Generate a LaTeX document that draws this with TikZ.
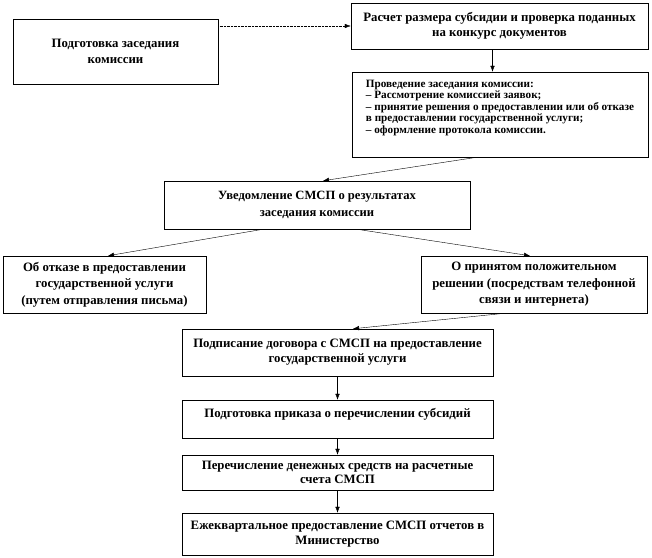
\documentclass[tikz,border=0pt]{standalone}
\usepackage{fontspec}
\setmainfont{Liberation Serif}
\usepackage{tikz}
\usetikzlibrary{arrows.meta, positioning}

\begin{document}
\begin{tikzpicture}[x=1pt, y=-1pt, >={Latex[length=6pt,width=4.5pt]},
    box/.style={draw, line width=0.5pt, inner sep=2pt, align=center,
      font=\fontsize{12.8}{15}\selectfont\bfseries}]
          \useasboundingbox (0,0) rectangle (652,557);

          \node[box, minimum width=205pt, minimum height=65pt, font=\fontsize{12.8}{16}\selectfont\bfseries] (1) at (115.5,51.5) {Подготовка заседания\\комиссии};
          \node[box, minimum width=297pt, minimum height=46pt] (2) at (499.5,26) {Расчет размера субсидии и проверка поданных\\на конкурс документов};
          \node[box, minimum width=296pt, minimum height=85pt, align=left, font=\fontsize{11.2}{11.6}\selectfont\bfseries] (3) at (500,114.5) {Проведение заседания комиссии:\\– Рассмотрение комиссией заявок;\\– принятие решения о предоставлении или об отказе\\в предоставлении государственной услуги;\\– оформление протокола комиссии.\\[4pt]};
          \node[box, minimum width=306pt, minimum height=48pt, font=\fontsize{12.6}{17}\selectfont\bfseries] (4) at (317,205) {Уведомление СМСП о результатах\\заседания комиссии};
          \node[box, minimum width=203pt, minimum height=57pt, font=\fontsize{12.8}{16.5}\selectfont\bfseries] (5) at (104.5,284.5) {Об отказе в предоставлении\\государственной услуги\\(путем отправления письма)};
          \node[box, minimum width=226pt, minimum height=57pt, font=\fontsize{12.8}{16.5}\selectfont\bfseries] (6) at (534,284.5) {О принятом положительном\\решении (посредствам телефонной\\связи и интернета)};
          \node[box, minimum width=311pt, minimum height=47pt] (7) at (337.5,352.5) {Подписание договора с СМСП на предоставление\\государственной услуги};
          \node[box, minimum width=311pt, minimum height=38pt, text depth=12pt] (8) at (337.5,419) {Подготовка приказа о перечислении субсидий};
          \node[box, minimum width=311pt, minimum height=35pt, font=\fontsize{12.8}{13.5}\selectfont\bfseries] (9) at (337.5,472.5) {Перечисление денежных средств на расчетные\\счета СМСП};
          \node[box, minimum width=311pt, minimum height=42pt] (10) at (337.5,534) {Ежеквартальное предоставление СМСП отчетов в\\Министерство};

          \draw[->, densely dotted] (2.west -| 1.east) to (2.west);
          \draw[->] ([xshift=-7pt]2.south) to ([xshift=-7pt]2.south |- 3.north);
          \draw[->] ([xshift=-23pt]3.south) to ([xshift=6pt]4.north);
          \draw[->] ([xshift=-54pt]4.south) to ([xshift=3.5pt]5.north);
          \draw[->] ([xshift=40pt]4.south) to ([xshift=-4pt]6.north);
          \draw[->] ([xshift=-29pt]6.south) to ([xshift=15.5pt]7.north);
          \draw[->] (7) to (8);
          \draw[->] (8) to (9);
          \draw[->] (9) to (10);
    \end{tikzpicture}
\end{document}
